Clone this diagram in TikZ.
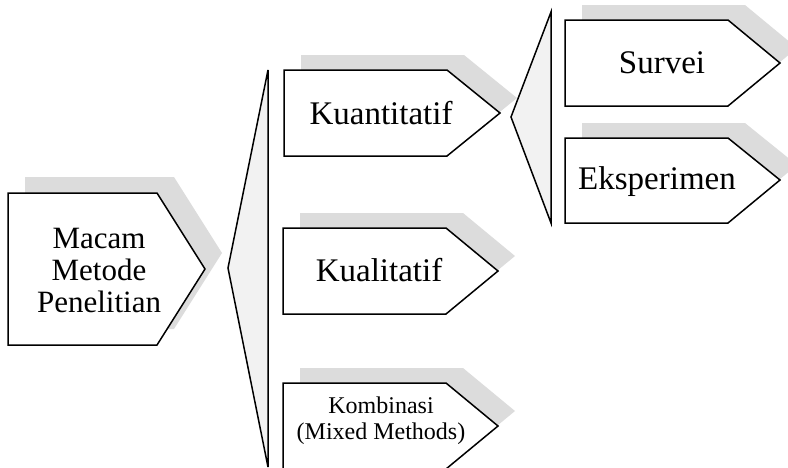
\documentclass[tikz,border=0pt]{standalone}
\usepackage{fontspec}
\setmainfont{Liberation Serif}
\usepackage{tikz}
\usetikzlibrary{positioning,calc}

\definecolor{shadowgray}{HTML}{DCDCDC}
\definecolor{bracketgray}{HTML}{F2F2F2}

\tikzset{
    box/.style={draw=black,fill=white,line width=1.5pt,line join=miter},
    boxshadow/.style={fill=shadowgray,draw=none},
    bracket/.style={draw=black,fill=bracketgray,line width=1.5pt},
    label/.style={font=\fontsize{33}{32}\selectfont,align=center,inner sep=0pt},
    smalllabel/.style={font=\fontsize{24}{26}\selectfont,align=center,inner sep=0pt}
}

\begin{document}
\begin{tikzpicture}[x=1pt,y=-1pt]
        \useasboundingbox (0,0) rectangle (788,467);

        % Shadows
        \fill[boxshadow] (25,177) -- (174,177) -- (222,253) -- (174,329) -- (25,329) -- cycle;
        \fill[boxshadow] (301,55) -- (464,55) -- (517,98) -- (464,141) -- (301,141) -- cycle;
        \fill[boxshadow] (300,213) -- (463,213) -- (515,256) -- (463,299) -- (300,299) -- cycle;
        \fill[boxshadow] (300,368) -- (463,368) -- (515,411) -- (463,454) -- (300,454) -- cycle;
        \fill[boxshadow] (582,5) -- (745,5) -- (797,48) -- (745,91) -- (582,91) -- cycle;
        \fill[boxshadow] (582,123) -- (745,123) -- (797,165) -- (745,208) -- (582,208) -- cycle;

        % Brackets
        \draw[bracket] (268,70) -- (228,268) -- (268,467) -- cycle;
        \draw[bracket] (551,12) -- (511,117) -- (551,223) -- cycle;

        % Boxes
        \draw[box] (8,193) -- (157,193) -- (205,269) -- (157,345) -- (8,345) -- cycle;
        \draw[box] (284,70) -- (447,70) -- (500,113) -- (447,156) -- (284,156) -- cycle;
        \draw[box] (283,228) -- (446,228) -- (498,271) -- (446,314) -- (283,314) -- cycle;
        \draw[box] (283,383) -- (446,383) -- (498,426) -- (446,469) -- (283,469) -- cycle;
        \draw[box] (565,20) -- (728,20) -- (780,63) -- (728,106) -- (565,106) -- cycle;
        \draw[box] (565,138) -- (728,138) -- (780,180) -- (728,223) -- (565,223) -- cycle;

        % Labels
        \node[label,font=\fontsize{31}{32}\selectfont] (macam) at (99,270) {Macam\\Metode\\Penelitian};
        \node[label] (kuantitatif) at (381,113) {Kuantitatif};
        \node[label] (kualitatif) at (379,270) {Kualitatif};
        \node[smalllabel] (kombinasi) at (381,421) {Kombinasi\\(Mixed Methods)};
        \node[label] (survei) at (662,63) {Survei};
        \node[label] (eksperimen) at (657,182) {Eksperimen};
    \end{tikzpicture}
\end{document}
